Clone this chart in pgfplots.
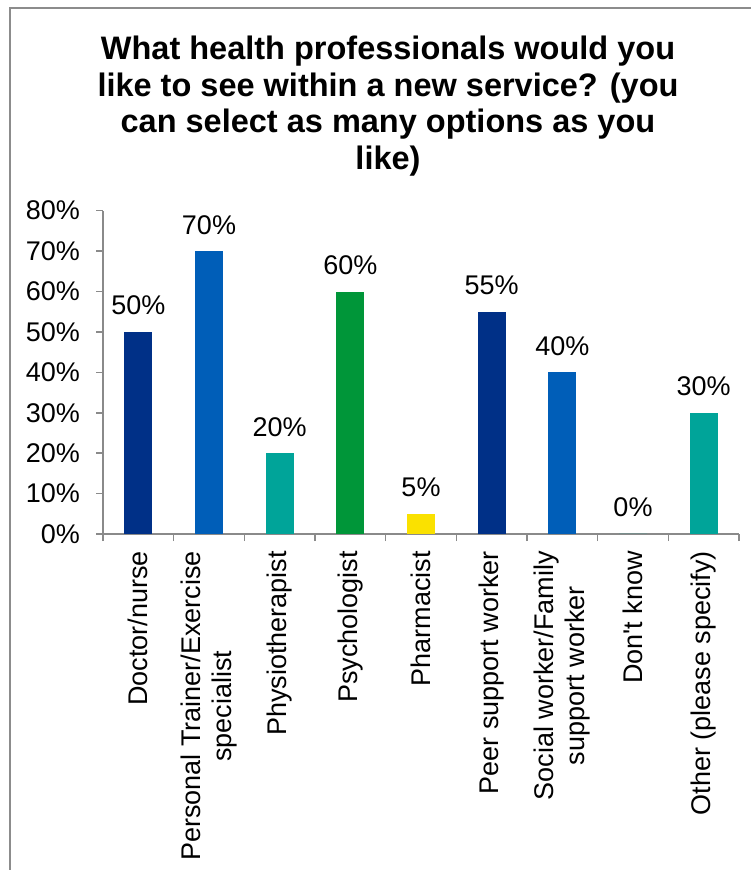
\documentclass[border=0pt]{standalone}
\usepackage{fontspec}
\setmainfont{Liberation Sans}[Ligatures=TeXOff]
\usepackage{pgfplots}
\pgfplotsset{compat=1.18}
\definecolor{nhsdark}{HTML}{003087}
\definecolor{nhsblue}{HTML}{005EB8}
\definecolor{nhsaqua}{HTML}{00A499}
\definecolor{nhsgreen}{HTML}{009639}
\definecolor{nhsyellow}{HTML}{FAE100}
\definecolor{axgrey}{HTML}{8A8A8A}
\definecolor{framegrey}{HTML}{8C8C8C}
\begin{document}
\begin{tikzpicture}[x=1pt,y=1pt]
\useasboundingbox (0,0) rectangle (751,870);
\draw[framegrey, line width=2pt] (9.5,-5) -- (9.5,861.5) -- (760,861.5);
\begin{scope}[font=\fontsize{32.5}{36.5}\selectfont\bfseries]
\node[anchor=base, inner sep=0pt] at (388,810) {What health professionals would you};
\node[anchor=base, inner sep=0pt] at (388,773.5) {like to see within a new service? (you};
\node[anchor=base, inner sep=0pt] at (388,737) {can select as many options as you};
\node[anchor=base, inner sep=0pt] at (388,700.5) {like)};
\end{scope}
\begin{axis}[
  at={(103pt,336pt)}, anchor=south west,
  scale only axis, width=636pt, height=323.3pt,
  xmin=-0.5, xmax=8.5, ymin=0, ymax=80,
  axis x line=bottom, axis y line=left,
  axis line style={-, axgrey, line width=1.5pt},
  tick align=outside, major tick length=7pt, minor tick length=7pt,
  tick style={axgrey, line width=1.5pt},
  major x tick style={draw=none},
  ytick={0,10,...,80},
  yticklabel={\pgfmathprintnumber{\tick}\%},
  xtick={0,...,8},
  minor xtick={-0.5,0.5,...,8.5},
  xticklabels={Doctor/nurse, {Personal Trainer/Exercise\\specialist}, Physiotherapist, Psychologist, Pharmacist, Peer support worker, {Social worker/Family\\support worker}, Don't know, Other (please specify)},
  /pgf/number format/assume math mode=true,
  ticklabel style={font=\fontsize{27}{31}\selectfont},
  yticklabel style={inner sep=0pt, xshift=-16pt},
  xticklabel style={yshift=-10pt, rotate=90, anchor=east, align=center, inner sep=0pt},
  clip=false,
  mybar/.style={ybar, bar width=28pt, draw=none, fill=#1,
    nodes near coords={\pgfmathprintnumber{\pgfplotspointmeta}\%},
    every node near coord/.append style={font=\fontsize{27}{31}\selectfont, anchor=base, inner sep=0pt, yshift=17pt, black}},
]
\addplot[mybar=nhsdark] coordinates {(0,50)};
\addplot[mybar=nhsblue] coordinates {(1,70)};
\addplot[mybar=nhsaqua] coordinates {(2,20)};
\addplot[mybar=nhsgreen] coordinates {(3,60)};
\addplot[mybar=nhsyellow] coordinates {(4,5)};
\addplot[mybar=nhsdark] coordinates {(5,55)};
\addplot[mybar=nhsblue] coordinates {(6,40)};
\addplot[mybar=nhsaqua] coordinates {(7,0)};
\addplot[mybar=nhsaqua] coordinates {(8,30)};
\end{axis}
\end{tikzpicture}
\end{document}
